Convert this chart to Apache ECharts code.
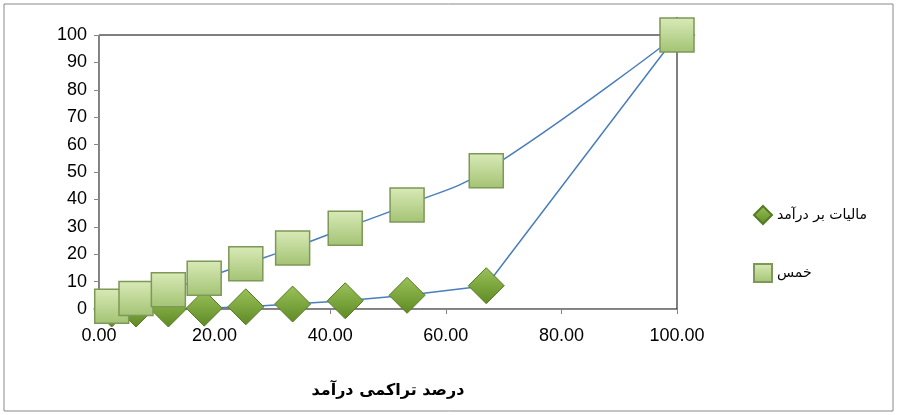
<!DOCTYPE html>
<html><head><meta charset="utf-8">
<script src="https://cdn.jsdelivr.net/npm/echarts@6/dist/echarts.min.js"></script>
<style>body{margin:0;background:#fff}#c{width:897px;height:415px}</style>
</head><body><div id="c"></div>
<script>
// x values (cumulative income percent)
var xVals = [2.2, 6.4, 12.0, 18.2, 25.4, 33.5, 42.6, 53.3, 67.0, 100];
var khums = [1.0, 3.8, 7.0, 11.2, 16.5, 22.3, 29.5, 38.0, 50.5, 100];
var tax = [0, 0, 0, 0.3, 0.8, 1.8, 3.0, 5.0, 8.5, 100];
var nameKhums = 'خمس';
var nameTax = 'ماليات بر درآمد';
var xTitle = 'درصد تراکمی درآمد';

function pairs(a) { return xVals.map(function (x, i) { return [x, a[i]]; }); }

var chart = echarts.init(document.getElementById('c'));
chart.setOption({
    animation: false,
    graphic: [{type: 'rect', shape: {x: 4, y: 4, width: 889, height: 407}, style: {fill: 'none', stroke: '#888', lineWidth: 1}}],
    grid: {left: 99, right: 220, top: 35, bottom: 106, show: true, borderColor: '#000', borderWidth: 1},
    legend: {
        orient: 'vertical', left: 748, top: 200, itemGap: 38, itemWidth: 18, itemHeight: 18,
        textStyle: {fontSize: 14, color: '#000', fontFamily: 'DejaVu Sans'},
        data: [{name: nameTax, icon: 'diamond'}, {name: nameKhums, icon: 'rect'}]
    },
    xAxis: {
        type: 'value', min: 0, max: 100, interval: 20,
        name: xTitle, nameLocation: 'middle', nameGap: 74,
        nameTextStyle: {fontSize: 16, fontWeight: 'bold', color: '#000', fontFamily: 'DejaVu Sans'},
        axisLine: {onZero: false, lineStyle: {color: '#888'}},
        axisTick: {show: true, lineStyle: {color: '#888'}},
        axisLabel: {fontSize: 18, color: '#000', margin: 18, formatter: function (v) { return v.toFixed(2); }},
        splitLine: {show: false}
    },
    yAxis: {
        type: 'value', min: 0, max: 100, interval: 10,
        axisLine: {show: true, lineStyle: {color: '#888'}},
        axisTick: {show: true, lineStyle: {color: '#888'}},
        axisLabel: {fontSize: 18, color: '#000', margin: 12},
        splitLine: {show: false}
    },
    series: [{
        name: nameTax, type: 'line', data: pairs(tax), smooth: false,
        symbol: 'diamond', symbolSize: 36,
        lineStyle: {color: '#4a7ebb', width: 1.5},
        itemStyle: {color: new echarts.graphic.LinearGradient(0, 0, 0, 1, [{offset: 0, color: '#9bc25a'}, {offset: 1, color: '#5e8a23'}]), borderColor: '#557a22', borderWidth: 1}
    }, {
        name: nameKhums, type: 'line', data: pairs(khums), smooth: 0.4,
        symbol: 'rect', symbolSize: 34,
        lineStyle: {color: '#4a7ebb', width: 1.5},
        itemStyle: {color: new echarts.graphic.LinearGradient(0, 0, 0, 1, [{offset: 0, color: '#d9eab8'}, {offset: 1, color: '#a3c373'}]), borderColor: '#7d9857', borderWidth: 1.5}
    }]
});
</script></body></html>
